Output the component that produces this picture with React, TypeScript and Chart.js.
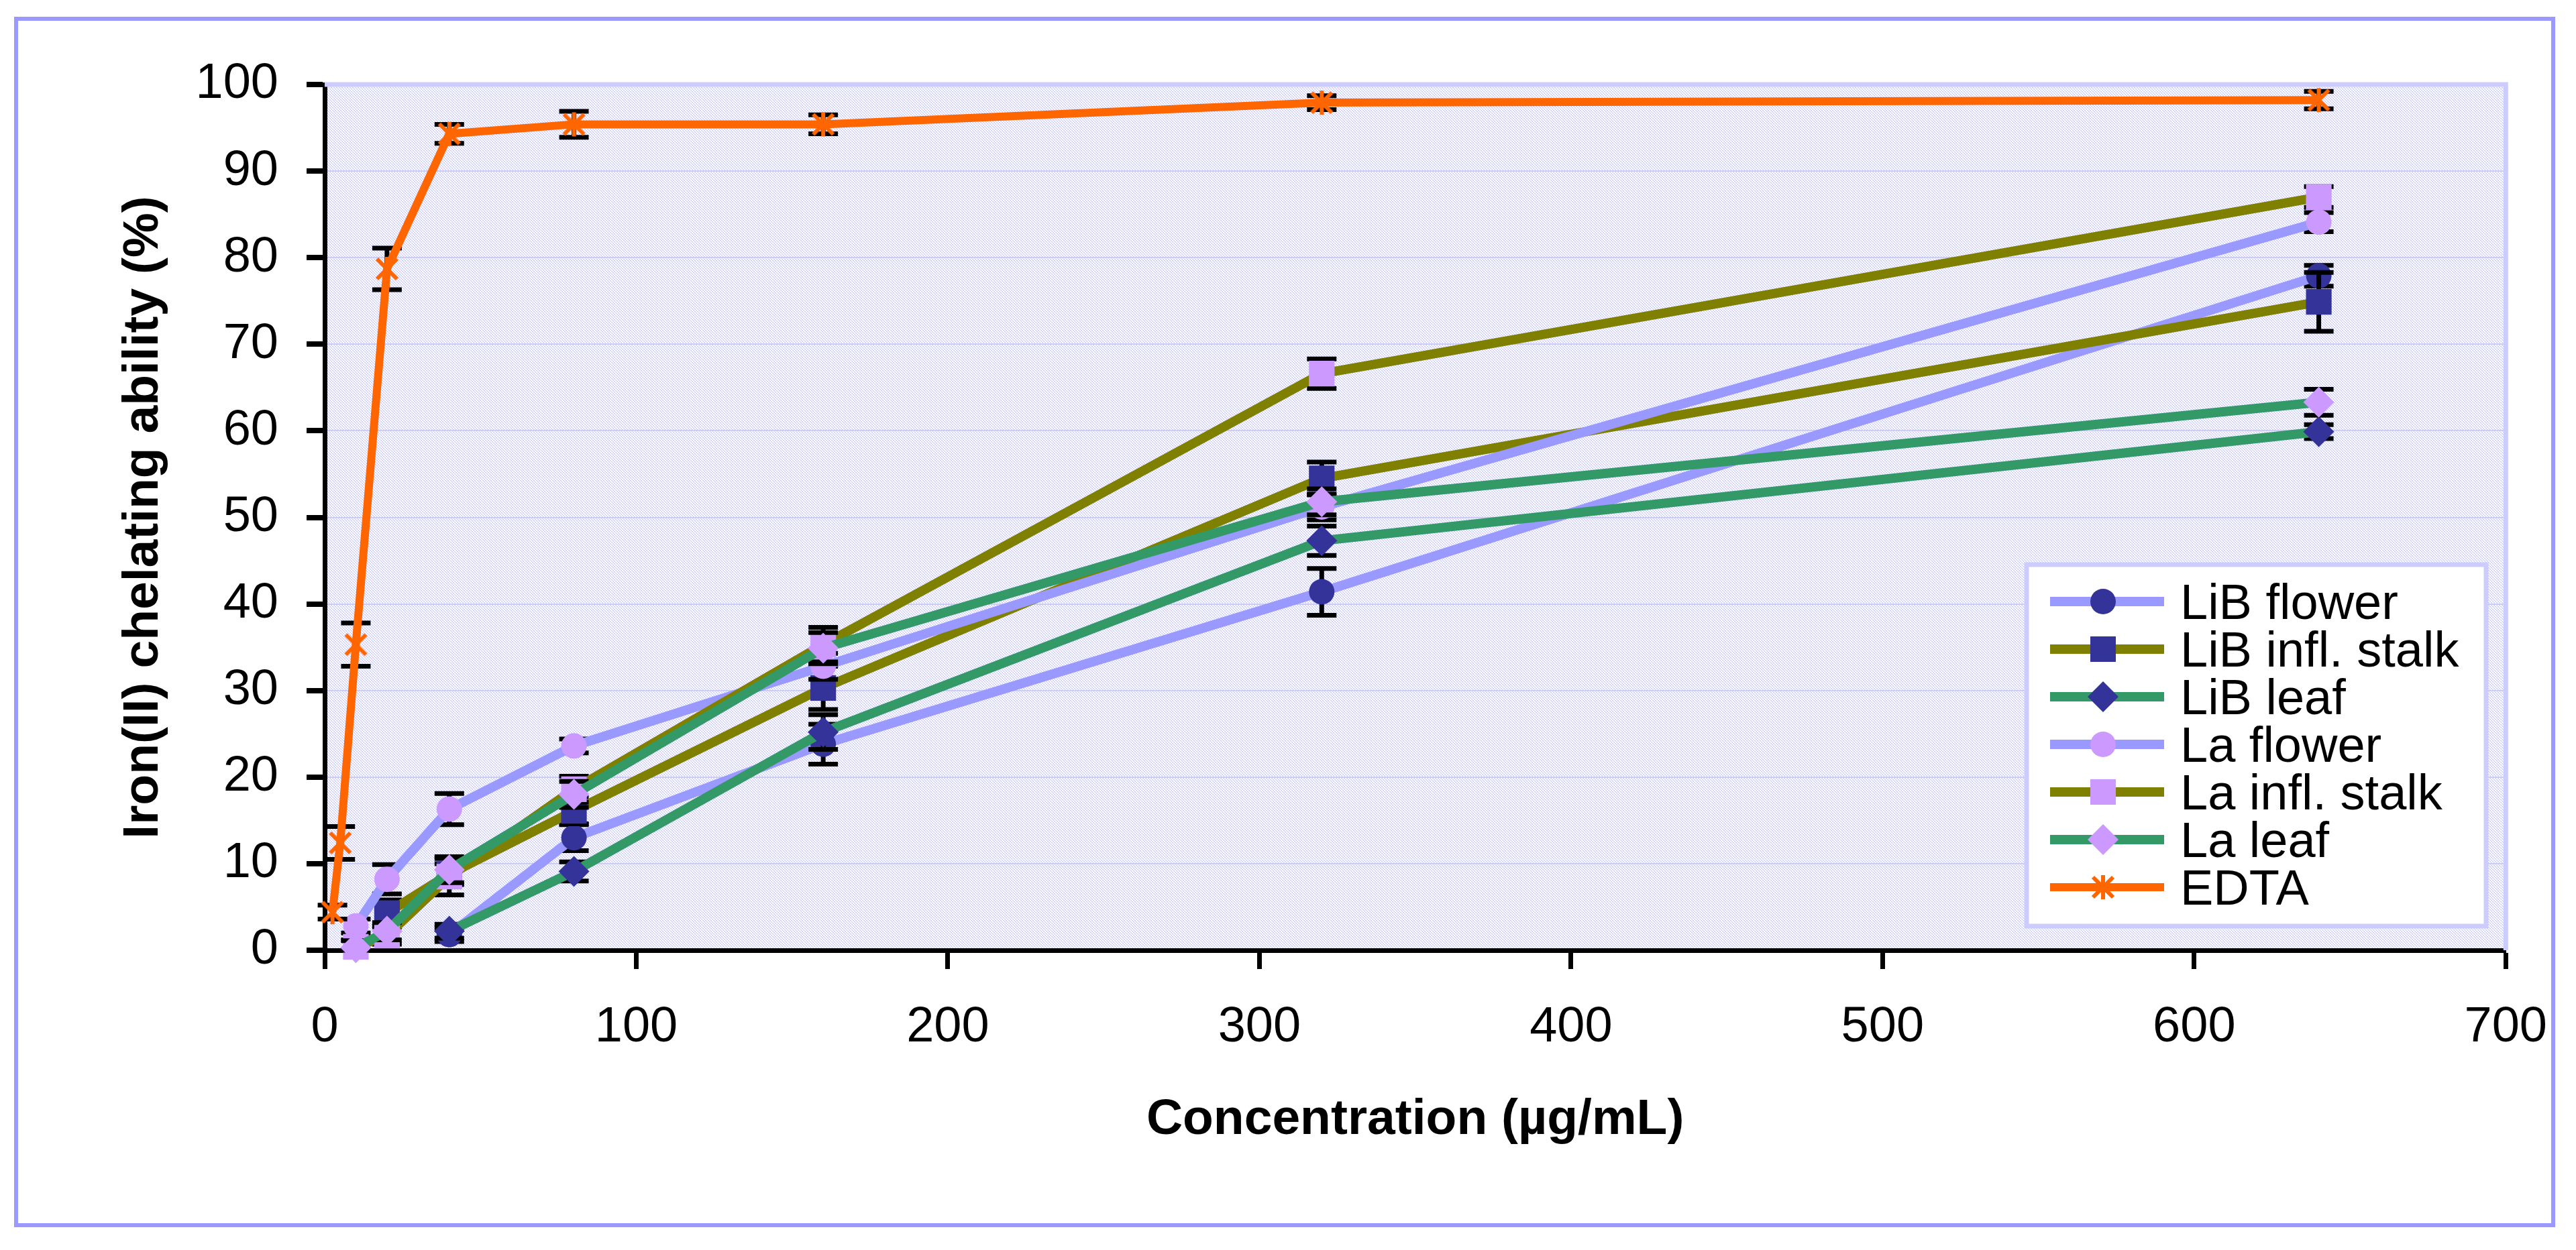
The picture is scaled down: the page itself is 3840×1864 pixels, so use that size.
import { useEffect, useRef } from "react";
import { Chart, registerables } from "chart.js";

Chart.register(...registerables);

const FONT = '"Liberation Sans", Arial, sans-serif';

// concentrations (µg/mL)
const plantConc = [10, 20, 40, 80, 160, 320, 640];
const edtaConc = [2.5, 5, 10, 20, 40, 80, 160, 320, 640];

const seriesNames = [
  "LiB flower",
  "LiB infl. stalk",
  "LiB leaf",
  "La flower",
  "La infl. stalk",
  "La leaf",
  "EDTA",
];

// iron(II) chelating ability (%)
const libFlower = [null, null, 1.8, 13.0, 23.8, 41.4, 77.9];
const libStalk = [null, 4.3, 8.8, 16.1, 30.3, 54.5, 74.9];
const libLeaf = [null, null, 2.2, 9.1, 25.2, 47.3, 59.9];
const laFlower = [2.8, 8.2, 16.3, 23.6, 32.8, 51.2, 84.1];
const laStalk = [0.4, 1.7, 8.5, 18.6, 35.3, 66.6, 87.0];
const laLeaf = [0.3, 2.2, 9.3, 18.0, 34.9, 51.8, 63.3];
const edta = [4.4, 12.4, 35.3, 78.7, 94.3, 95.4, 95.4, 97.9, 98.2];

// standard deviations
const libFlowerErr = [0, 0, 0.8, 1.5, 2.3, 2.7, 1.2];
const libStalkErr = [0, 1.5, 1.2, 1.5, 2.5, 1.9, 3.4];
const libLeafErr = [0, 0, 0.8, 1.1, 2.0, 1.7, 0.8];
const laFlowerErr = [0.8, 1.7, 1.8, 0.8, 1.5, 1.5, 1.1];
const laStalkErr = [0.8, 1.0, 2.1, 1.5, 2.0, 1.7, 1.2];
const laLeafErr = [0.8, 1.0, 1.5, 1.5, 1.8, 1.5, 1.5];
const edtaErr = [0.8, 1.9, 2.5, 2.4, 1.1, 1.5, 1.1, 0.8, 1.0];

const series = [libFlower, libStalk, libLeaf, laFlower, laStalk, laLeaf, edta];
const errors = [libFlowerErr, libStalkErr, libLeafErr, laFlowerErr, laStalkErr, laLeafErr, edtaErr];

const lineColors = ["#9999FF", "#808000", "#339966", "#9999FF", "#808000", "#339966", "#FF6600"];
const markerColors = ["#333399", "#333399", "#333399", "#CC99FF", "#CC99FF", "#CC99FF", "#FF6600"];
const markerShapes = ["circle", "rect", "rectRot", "circle", "rect", "rectRot", "star"];
const markerRadius: Record<string, number> = { circle: 19, rect: 27, rectRot: 23, star: 18 };

function makeStar() {
  const c = document.createElement("canvas");
  c.width = 40;
  c.height = 40;
  const g = c.getContext("2d")!;
  g.strokeStyle = "#FF6600";
  g.lineWidth = 6;
  g.beginPath();
  g.moveTo(5, 5);
  g.lineTo(35, 35);
  g.moveTo(35, 5);
  g.lineTo(5, 35);
  g.moveTo(20, 2);
  g.lineTo(20, 38);
  g.stroke();
  return c;
}

function makePattern(ctx: CanvasRenderingContext2D) {
  const c = document.createElement("canvas");
  c.width = 4;
  c.height = 4;
  const g = c.getContext("2d")!;
  g.fillStyle = "#ffffff";
  g.fillRect(0, 0, 4, 4);
  g.fillStyle = "#ccccff";
  const dots = [[0, 0], [0, 1], [2, 2], [2, 3], [1, 2], [3, 0]];
  dots.forEach(([x, y]) => g.fillRect(x, y, 1, 1));
  return ctx.createPattern(c, "repeat");
}

function drawMarker(ctx: CanvasRenderingContext2D, shape: string, x: number, y: number, color: string, star: HTMLCanvasElement) {
  ctx.save();
  ctx.fillStyle = color;
  ctx.beginPath();
  if (shape === "circle") {
    ctx.arc(x, y, 19, 0, Math.PI * 2);
    ctx.fill();
  } else if (shape === "rect") {
    ctx.rect(x - 19, y - 19, 38, 38);
    ctx.fill();
  } else if (shape === "rectRot") {
    ctx.moveTo(x - 23, y);
    ctx.lineTo(x, y - 23);
    ctx.lineTo(x + 23, y);
    ctx.lineTo(x, y + 23);
    ctx.closePath();
    ctx.fill();
  } else {
    ctx.drawImage(star, x - 20, y - 20);
  }
  ctx.restore();
}

export default function App() {
  const canvasRef = useRef<HTMLCanvasElement | null>(null);
  const chartRef = useRef<Chart | null>(null);

  useEffect(() => {
    if (!canvasRef.current) return;
    if (chartRef.current) chartRef.current.destroy();
    const ctx = canvasRef.current.getContext("2d");
    if (!ctx) return;
    const star = makeStar();
    const pattern = makePattern(ctx);

    const backdrop = {
      id: "backdrop",
      beforeDraw(chart: any) {
        const c = chart.ctx;
        const a = chart.chartArea;
        c.save();
        c.fillStyle = "#ffffff";
        c.fillRect(0, 0, chart.width, chart.height);
        c.strokeStyle = "#9999FF";
        c.lineWidth = 6;
        c.strokeRect(24, 28, 3782, 1799);
        c.fillStyle = pattern || "#ededff";
        c.fillRect(a.left, a.top, a.right - a.left, a.bottom - a.top);
        c.restore();
      },
      beforeDatasetsDraw(chart: any) {
        const c = chart.ctx;
        const a = chart.chartArea;
        c.save();
        c.strokeStyle = "#CCCCFF";
        c.lineWidth = 7;
        c.beginPath();
        c.moveTo(a.left, a.top);
        c.lineTo(a.right, a.top);
        c.lineTo(a.right, a.bottom);
        c.stroke();
        c.restore();
      },
    };

    const errorBars = {
      id: "errorBars",
      beforeDatasetDraw(chart: any, args: any) {
        const i = args.index;
        const xs = i === 6 ? edtaConc : plantConc;
        const vals = series[i];
        const errs = errors[i];
        const xScale = chart.scales.x;
        const yScale = chart.scales.y;
        const c = chart.ctx;
        c.save();
        c.strokeStyle = "#000000";
        c.lineWidth = 7;
        vals.forEach((v, j) => {
          if (v === null || !errs[j]) return;
          const px = xScale.getPixelForValue(xs[j]);
          const top = yScale.getPixelForValue(v + errs[j]);
          const bot = yScale.getPixelForValue(Math.max(0, v - errs[j]));
          c.beginPath();
          c.moveTo(px, top);
          c.lineTo(px, bot);
          c.moveTo(px - 22, top);
          c.lineTo(px + 22, top);
          c.moveTo(px - 22, bot);
          c.lineTo(px + 22, bot);
          c.stroke();
        });
        c.restore();
      },
    };

    const legendBox = {
      id: "legendBox",
      afterDraw(chart: any) {
        const c = chart.ctx;
        c.save();
        c.fillStyle = "#ffffff";
        c.fillRect(3018, 839, 691, 545);
        c.strokeStyle = "#CCCCFF";
        c.lineWidth = 7;
        c.strokeRect(3021, 842, 685, 539);
        c.font = `74px ${FONT}`;
        c.textBaseline = "alphabetic";
        c.textAlign = "left";
        seriesNames.forEach((name, i) => {
          const y = 897 + i * 71;
          c.strokeStyle = lineColors[i];
          c.lineWidth = i === 6 ? 12 : 14;
          c.beginPath();
          c.moveTo(3056, y);
          c.lineTo(3226, y);
          c.stroke();
          drawMarker(c, markerShapes[i], 3135, y, markerColors[i], star);
          c.fillStyle = "#000000";
          c.fillText(name, 3250, y + 26);
        });
        c.restore();
      },
    };

    chartRef.current = new Chart(ctx, {
      type: "line",
      data: {
        datasets: series.map((vals, i) => {
          const xs = i === 6 ? edtaConc : plantConc;
          const shape = markerShapes[i];
          return {
            label: seriesNames[i],
            data: xs.map((x, j) => ({ x, y: vals[j] })),
            borderColor: lineColors[i],
            backgroundColor: lineColors[i],
            borderWidth: i === 6 ? 12 : 14,
            pointStyle: shape === "star" ? star : shape,
            pointRadius: markerRadius[shape],
            pointBackgroundColor: markerColors[i],
            pointBorderColor: markerColors[i],
            pointBorderWidth: 0,
            tension: 0,
            fill: false,
            clip: false,
            order: 7 - i,
          } as any;
        }),
      },
      options: {
        animation: false,
        responsive: false,
        devicePixelRatio: 1,
        events: [],
        layout: { padding: { left: 0, top: 126, right: 98, bottom: 147 } },
        plugins: {
          legend: { display: false },
          tooltip: { enabled: false },
        },
        scales: {
          x: {
            type: "linear",
            min: 0,
            max: 700,
            ticks: {
              stepSize: 100,
              color: "#000000",
              padding: 43,
              font: { family: FONT, size: 74 },
            },
            grid: {
              drawOnChartArea: false,
              tickColor: "#000000",
              tickWidth: 7,
              tickLength: 28,
            },
            border: { color: "#000000", width: 7 },
            title: {
              display: true,
              text: "Concentration (µg/mL)",
              color: "#000000",
              font: { family: FONT, size: 75, weight: "bold" },
              padding: { top: 0, bottom: 2 },
            },
            afterFit(scale: any) {
              scale.height = 300;
            },
          },
          y: {
            type: "linear",
            min: 0,
            max: 100,
            ticks: {
              stepSize: 10,
              color: "#000000",
              padding: 42,
              font: { family: FONT, size: 74 },
            },
            grid: {
              color: "#CCCCF8",
              lineWidth: 2,
              tickColor: "#000000",
              tickWidth: 8,
              tickLength: 27,
            },
            border: { color: "#000000", width: 7 },
            title: {
              display: true,
              text: "Iron(II) chelating ability (%)",
              color: "#000000",
              font: { family: FONT, size: 75, weight: "bold" },
              padding: { top: 169, bottom: 0 },
            },
            afterFit(scale: any) {
              scale.width = 484;
            },
          },
        },
      },
      plugins: [backdrop, errorBars, legendBox],
    });

    return () => {
      if (chartRef.current) {
        chartRef.current.destroy();
        chartRef.current = null;
      }
    };
  }, []);

  return (
    <div
      style={{
        position: "fixed",
        left: 0,
        top: 0,
        width: "3840px",
        height: "1864px",
        background: "#ffffff",
      }}
    >
      <canvas
        ref={canvasRef}
        width={3840}
        height={1864}
        style={{ display: "block", width: "3840px", height: "1864px" }}
      ></canvas>
    </div>
  );
}
